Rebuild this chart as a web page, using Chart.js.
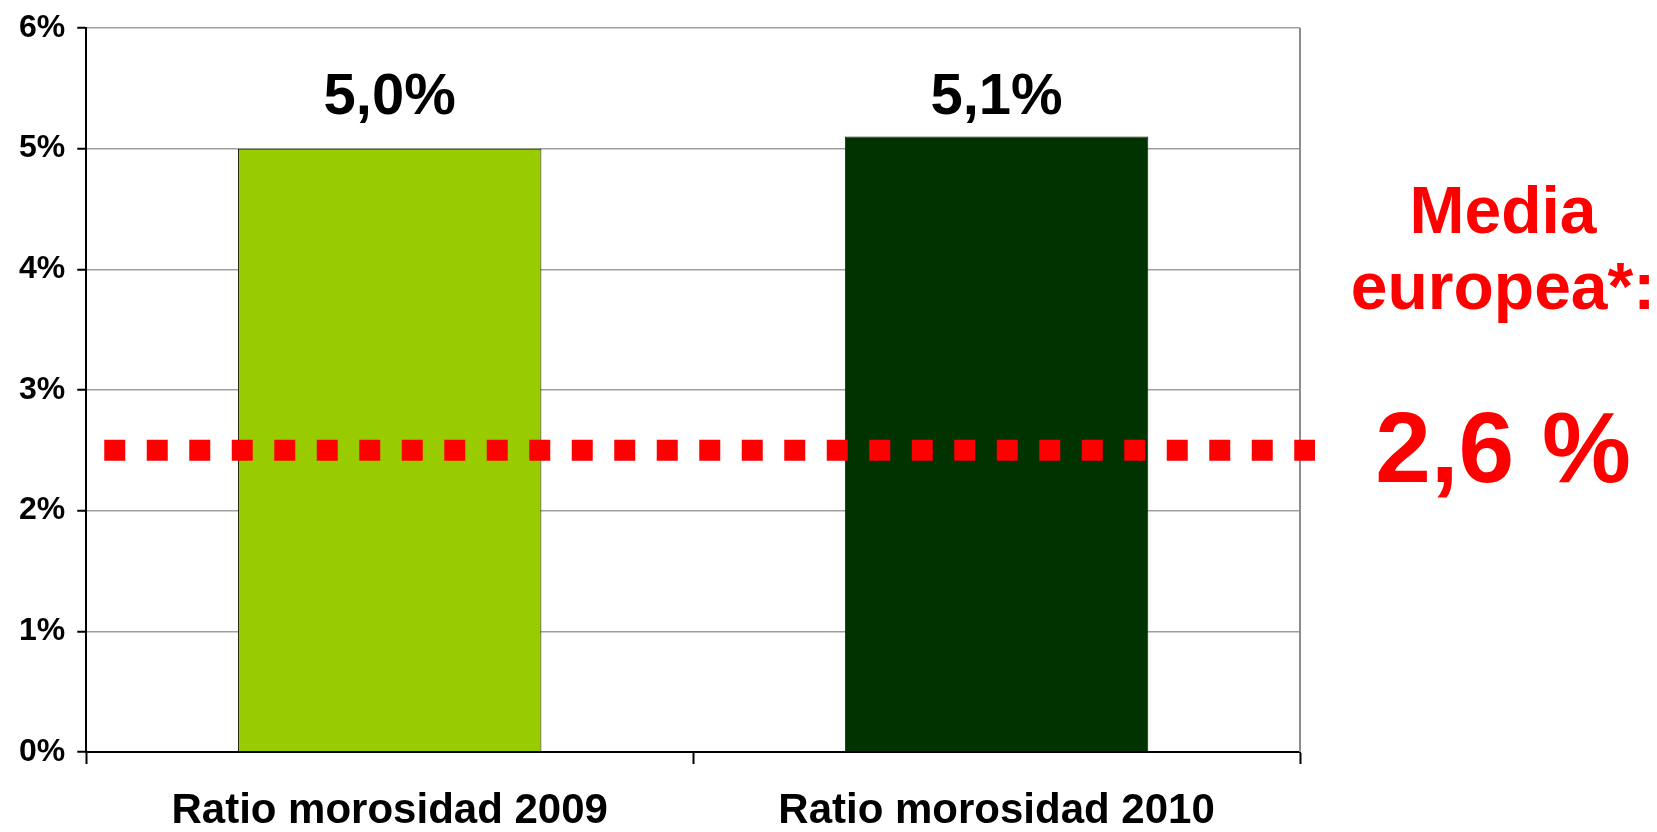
<!DOCTYPE html>
<html>
<head>
<meta charset="utf-8">
<title>Ratio morosidad</title>
<script src="https://cdn.jsdelivr.net/npm/chart.js@4.4.1/dist/chart.umd.min.js"></script>
<style>
  html, body { margin: 0; padding: 0; background: #fff; }
  canvas { display: block; }
</style>
</head>
<body>
<canvas id="myChart" width="1657" height="832"></canvas>
<script>
'use strict';

// data
let categories = ['Ratio morosidad 2009', 'Ratio morosidad 2010'];
let ratioValues = [5.0, 5.1];
let barColors = ['#99cc00', '#003300'];
let mediaLine = [2.5];            // where the dotted red line sits
let mediaText = ['Media', 'europea*:'];
let mediaValueText = ['2,6 %'];
let yTicks = [0, 1, 2, 3, 4, 5, 6];

const FONT = "'Liberation Sans', Arial, sans-serif";

function pct(v) {
  return v.toFixed(1).replace('.', ',') + '%';
}

// labels above bars, all at the same height (like the original)
let barLabels = {
  id: 'barLabels',
  afterDatasetsDraw(chart) {
    let ctx = chart.ctx;
    let meta = chart.getDatasetMeta(0);
    let yScale = chart.scales.y;
    let labelY = yScale.getPixelForValue(Math.max(...ratioValues)) - 23;
    ctx.save();
    ctx.font = 'bold 58px ' + FONT;
    ctx.fillStyle = '#000';
    ctx.textAlign = 'center';
    ctx.textBaseline = 'alphabetic';
    meta.data.forEach((bar, i) => {
      ctx.fillText(pct(ratioValues[i]), bar.x, labelY);
    });
    ctx.restore();
  }
};

// gray right border of the plot area
let plotBorder = {
  id: 'plotBorder',
  beforeDatasetsDraw(chart) {
    let ctx = chart.ctx;
    let a = chart.chartArea;
    ctx.save();
    ctx.strokeStyle = '#8c8c8c';
    ctx.lineWidth = 2;
    ctx.beginPath();
    ctx.moveTo(a.right, a.top);
    ctx.lineTo(a.right, a.bottom);
    ctx.stroke();
    ctx.restore();
  }
};

// dotted european average line + text on the right
let mediaEuropea = {
  id: 'mediaEuropea',
  afterDatasetsDraw(chart) {
    let ctx = chart.ctx;
    let a = chart.chartArea;
    let y = chart.scales.y.getPixelForValue(mediaLine[0]);
    ctx.save();
    ctx.strokeStyle = '#ff0000';
    ctx.lineWidth = 21;
    ctx.setLineDash([21, 21.5]);
    ctx.beginPath();
    ctx.moveTo(a.left + 18, y);
    ctx.lineTo(a.right + 15, y);
    ctx.stroke();
    ctx.setLineDash([]);

    let cx = a.right + 203;
    ctx.fillStyle = '#ff0000';
    ctx.textAlign = 'center';
    ctx.textBaseline = 'alphabetic';
    ctx.font = 'bold 66px ' + FONT;
    ctx.fillText(mediaText[0], cx, 233);
    ctx.fillText(mediaText[1], cx, 309);
    ctx.font = 'bold 100px ' + FONT;
    ctx.fillText(mediaValueText[0], cx, y + 32);
    ctx.restore();
  }
};

let ctx = document.getElementById('myChart').getContext('2d');
let myChart = new Chart(ctx, {
  type: 'bar',
  data: {
    labels: categories,
    datasets: [{
      data: ratioValues,
      backgroundColor: barColors,
      borderColor: '#1a1a0a',
      borderWidth: 1,
      categoryPercentage: 1,
      barPercentage: 0.5
    }]
  },
  options: {
    responsive: false,
    animation: false,
    layout: {
      padding: { left: 7, right: 357, top: -2, bottom: -26 }
    },
    plugins: {
      legend: { display: false },
      tooltip: { enabled: false }
    },
    scales: {
      x: {
        offset: true,
        grid: {
          offset: true,
          drawOnChartArea: false,
          tickColor: '#000',
          tickLength: 12,
          tickWidth: 2
        },
        border: { color: '#000', width: 2 },
        ticks: {
          color: '#000',
          padding: 26,
          font: { family: FONT, size: 42, weight: 'bold', lineHeight: 1 }
        }
      },
      y: {
        min: yTicks[0],
        max: yTicks[yTicks.length - 1],
        afterBuildTicks(axis) {
          axis.ticks = yTicks.map(v => ({ value: v }));
        },
        grid: {
          color: '#a0a0a0',
          lineWidth: 1.5,
          tickColor: '#000',
          tickLength: 9,
          tickWidth: 2
        },
        border: { color: '#000', width: 2 },
        ticks: {
          color: '#000',
          padding: 12,
          font: { family: FONT, size: 32, weight: 'bold', lineHeight: 1 },
          callback: v => v + '%'
        }
      }
    }
  },
  plugins: [plotBorder, barLabels, mediaEuropea]
});
</script>
</body>
</html>
